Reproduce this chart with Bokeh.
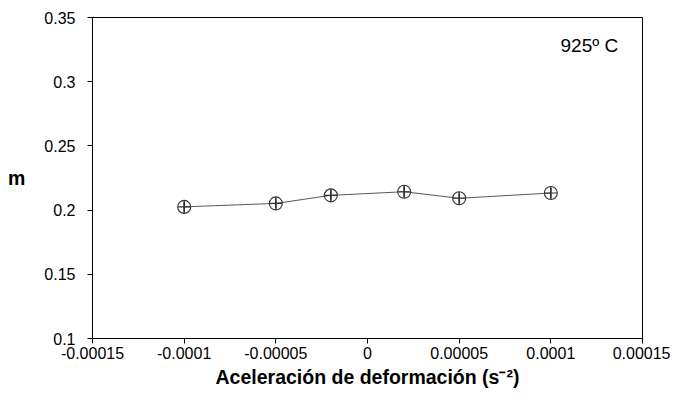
from bokeh.plotting import figure
from bokeh.models import Range1d, FixedTicker, Label
from bokeh.embed import file_html
from bokeh.resources import INLINE

x_vals = [-0.0001, -0.00005, -0.00002, 0.00002, 0.00005, 0.0001]
m_vals = [0.2025, 0.2052, 0.2115, 0.2143, 0.2092, 0.2133]
m_err = [0.004, 0.004, 0.004, 0.004, 0.004, 0.004]

x_ticks = [-0.00015, -0.0001, -0.00005, 0.0, 0.00005, 0.0001, 0.00015]
x_labels = ["-0.00015", "-0.0001", "-0.00005", "0", "0.00005", "0.0001", "0.00015"]
y_ticks = [0.1, 0.15, 0.2, 0.25, 0.3, 0.35]
y_labels = ["0.1", "0.15", "0.2", "0.25", "0.3", "0.35"]

FONT = "Liberation Sans"

p = figure(width=670, height=393, output_backend="svg", toolbar_location=None,
           x_range=Range1d(-0.00015, 0.00015), y_range=Range1d(0.1, 0.35),
           min_border_left=92, min_border_right=28, min_border_top=17, min_border_bottom=55)
p.xgrid.visible = False
p.ygrid.visible = False
p.outline_line_color = "black"
p.outline_line_width = 1
p.background_fill_color = "white"
p.border_fill_color = "white"

for ax in (p.xaxis[0], p.yaxis[0]):
    ax.major_tick_out = 5
    ax.major_tick_in = 0
    ax.minor_tick_out = 0
    ax.minor_tick_in = 0
    ax.axis_line_color = "black"
    ax.major_tick_line_color = "black"
    ax.major_label_text_font = FONT
    ax.major_label_text_font_size = "16px"
    ax.major_label_text_color = "black"
    ax.axis_label_text_font = FONT
    ax.axis_label_text_font_style = "bold"
    ax.axis_label_text_font_size = "19.5px"
    ax.axis_label_text_color = "black"

p.xaxis.ticker = FixedTicker(ticks=x_ticks)
p.xaxis.major_label_overrides = {t: l for t, l in zip(x_ticks, x_labels)}
p.yaxis.ticker = FixedTicker(ticks=y_ticks)
p.yaxis.major_label_overrides = {t: l for t, l in zip(y_ticks, y_labels)}
p.xaxis.axis_label = "Aceleración de deformación (s⁻²)"
p.xaxis.axis_label_standoff = 4
p.yaxis.axis_label = "m"
p.yaxis.axis_label_orientation = "horizontal"
p.yaxis.axis_label_standoff = 16
p.yaxis.major_label_standoff = 12
p.xaxis.major_label_standoff = 3

p.line(x_vals, m_vals, line_color="#444444", line_width=0.9)
p.segment(x0=x_vals, y0=[m - e for m, e in zip(m_vals, m_err)],
          x1=x_vals, y1=[m + e for m, e in zip(m_vals, m_err)],
          line_color="black", line_width=1.3)
p.scatter(x_vals, m_vals, marker="circle_cross", size=13, fill_color="white",
          fill_alpha=0.0, line_color="#333333", line_width=1.1)

p.add_layout(Label(x=0.000121, y=0.328, text="925º C", text_font=FONT,
                   text_font_size="19px", text_align="center", text_baseline="middle",
                   text_color="black"))

open("out.html", "w").write(file_html(p, INLINE))
